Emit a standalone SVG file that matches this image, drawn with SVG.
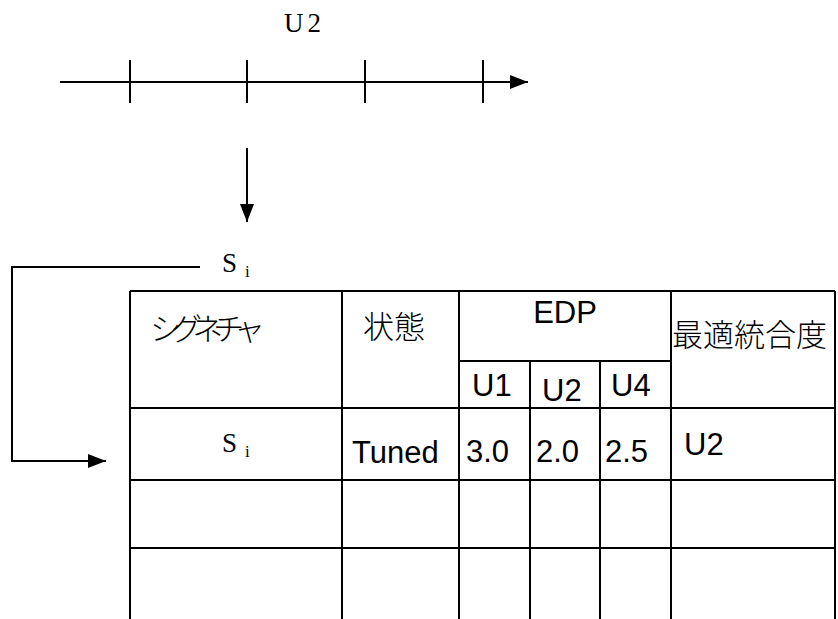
<svg xmlns="http://www.w3.org/2000/svg" width="838" height="619" viewBox="0 0 838 619">
<defs>
<marker id="ah" markerWidth="18" markerHeight="14" refX="18" refY="7" orient="auto" markerUnits="userSpaceOnUse">
<path d="M0,0 L18,7 L0,14 Z" fill="#000"/>
</marker>
<style>
.ln{stroke:#000;stroke-width:2;fill:none}
.ser{font-family:"Liberation Serif","DejaVu Serif",serif;fill:#000}
.sans{font-family:"Liberation Sans",Arial,sans-serif;font-size:31px;fill:#000}
.jp{font-family:"Noto Sans CJK JP",sans-serif;font-size:31px;font-weight:300;fill:#000}
</style>
</defs>
<rect width="838" height="619" fill="#fff"/>
<g id="timeline">
<line class="ln" x1="60" y1="82" x2="528" y2="82" marker-end="url(#ah)"/>
<line class="ln" x1="130" y1="60" x2="130" y2="103"/>
<line class="ln" x1="247" y1="60" x2="247" y2="103"/>
<line class="ln" x1="365" y1="60" x2="365" y2="103"/>
<line class="ln" x1="483" y1="60" x2="483" y2="103"/>
<text class="ser" x="284" y="32" font-size="27" letter-spacing="4">U2</text>
</g>
<g id="connectors">
<line class="ln" x1="247" y1="148" x2="247" y2="222" marker-end="url(#ah)"/>
<polyline class="ln" points="200,267 12,267 12,461 106,461" marker-end="url(#ah)"/>
</g>
<g id="si-label">
<text class="ser" x="222" y="272" font-size="27">S<tspan x="245" dy="5" font-size="17">i</tspan></text>
</g>
<g id="table">
<line class="ln" x1="130" y1="291" x2="835" y2="291"/>
<line class="ln" x1="130" y1="291" x2="130" y2="619"/>
<line class="ln" x1="342" y1="291" x2="342" y2="619"/>
<line class="ln" x1="459" y1="291" x2="459" y2="619"/>
<line class="ln" x1="530" y1="361" x2="530" y2="619"/>
<line class="ln" x1="600" y1="361" x2="600" y2="619"/>
<line class="ln" x1="671" y1="291" x2="671" y2="619"/>
<line class="ln" x1="835" y1="291" x2="835" y2="619"/>
<line class="ln" x1="459" y1="361" x2="671" y2="361"/>
<line class="ln" x1="130" y1="408" x2="835" y2="408"/>
<line class="ln" x1="130" y1="480" x2="835" y2="480"/>
<line class="ln" x1="130" y1="548" x2="835" y2="548"/>
<text class="jp" x="150" y="340" font-size="30" textLength="115" lengthAdjust="spacing">シグネチャ</text>
<text class="jp" x="363" y="338">状態</text>
<text class="sans" x="565" y="323" text-anchor="middle">EDP</text>
<text class="sans" x="472" y="396">U1</text>
<text class="sans" x="542" y="401">U2</text>
<text class="sans" x="611" y="396">U4</text>
<text class="jp" x="672" y="346" font-size="32">最適統合度</text>
<text class="ser" x="222" y="452" font-size="27">S<tspan x="245" dy="5" font-size="17">i</tspan></text>
<text class="sans" x="352" y="463">Tuned</text>
<text class="sans" x="466" y="462">3.0</text>
<text class="sans" x="536" y="462">2.0</text>
<text class="sans" x="605" y="462">2.5</text>
<text class="sans" x="684" y="455">U2</text>
</g>
</svg>
